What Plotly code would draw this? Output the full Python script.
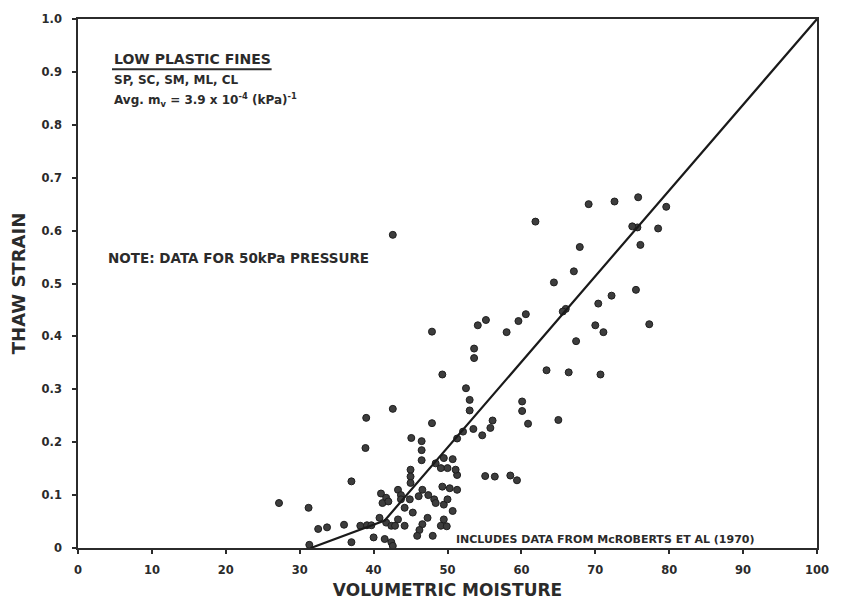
import plotly.graph_objects as go

# Measured points: volumetric moisture (%) and thaw strain
moisture = [
    42.6, 61.9, 69.1, 72.6, 75.8, 79.6, 75.7, 75.0, 78.5, 76.1,
    67.9, 67.1, 64.4, 66.0, 65.6, 72.2, 75.5, 70.4, 70.0, 71.1,
    77.3, 67.4, 70.7, 66.4, 63.4, 60.6, 59.6, 58.0, 55.2, 54.1,
    47.9, 53.6, 53.6, 49.3, 52.5, 53.0, 53.0, 60.1, 60.1, 60.9,
    65.0, 56.1, 55.8, 55.1, 56.4, 58.5, 59.4,
    42.6, 39.0, 47.9, 38.9, 45.1, 46.5, 46.5, 46.5, 37.0, 27.2,
    31.2, 36.0, 32.5, 33.7, 31.3, 37.0, 38.2, 39.1, 39.7, 40.0,
    41.0, 41.7, 41.2, 42.0, 40.8, 41.7, 42.4, 41.5, 42.4, 42.6,
    43.3, 43.7, 43.7, 43.3, 42.9, 44.2, 44.2, 45.3, 44.9, 45.0,
    45.0, 45.0, 46.1, 46.6, 47.4, 48.2, 47.3, 46.6, 46.2, 45.9,
    48.0, 49.1, 49.5, 49.9, 50.7, 49.5, 50.0, 49.3, 50.3, 51.3,
    48.4, 48.4, 49.5, 50.7, 50.0, 49.1, 51.3, 51.1, 52.1, 53.5,
    54.7, 51.3,
]
strain = [
    0.592, 0.617, 0.650, 0.655, 0.663, 0.645, 0.606, 0.608, 0.604, 0.573,
    0.569, 0.523, 0.502, 0.452, 0.447, 0.477, 0.488, 0.462, 0.421, 0.408,
    0.423, 0.391, 0.328, 0.332, 0.336, 0.442, 0.429, 0.408, 0.431, 0.421,
    0.409, 0.377, 0.359, 0.328, 0.302, 0.280, 0.260, 0.277, 0.259, 0.235,
    0.242, 0.241, 0.227, 0.136, 0.135, 0.137, 0.128,
    0.263, 0.246, 0.236, 0.189, 0.208, 0.202, 0.185, 0.166, 0.126, 0.085,
    0.076, 0.044, 0.036, 0.039, 0.006, 0.011, 0.042, 0.043, 0.043, 0.020,
    0.103, 0.095, 0.085, 0.088, 0.057, 0.048, 0.042, 0.017, 0.011, 0.004,
    0.110, 0.100, 0.092, 0.054, 0.042, 0.042, 0.076, 0.067, 0.092, 0.148,
    0.135, 0.123, 0.098, 0.110, 0.100, 0.092, 0.057, 0.045, 0.034, 0.023,
    0.023, 0.042, 0.054, 0.041, 0.070, 0.082, 0.092, 0.116, 0.113, 0.110,
    0.085, 0.160, 0.170, 0.168, 0.151, 0.151, 0.138, 0.148, 0.220, 0.225,
    0.213, 0.207,
]

# Fitted relationship (piecewise straight line)
fit_moisture = [31.5, 41.5, 100]
fit_strain = [0.0, 0.052, 1.0]

x_ticks = [0, 10, 20, 30, 40, 50, 60, 70, 80, 90, 100]
x_tick_text = ["0", "10", "20", "30", "40", "50", "60", "70", "80", "90", "100"]
y_ticks = [0, 0.1, 0.2, 0.3, 0.4, 0.5, 0.6, 0.7, 0.8, 0.9, 1.0]
y_tick_text = ["0", "0.1", "0.2", "0.3", "0.4", "0.5", "0.6", "0.7", "0.8", "0.9", "1.0"]

INK = "#2b2b2b"
FONT = "DejaVu Sans"

fig = go.Figure()
fig.add_trace(go.Scatter(
    x=moisture, y=strain, mode="markers",
    marker=dict(size=7, color="#3d3d3d", line=dict(color="#1e1e1e", width=1)),
    showlegend=False, hoverinfo="skip",
))
fig.add_trace(go.Scatter(
    x=fit_moisture, y=fit_strain, mode="lines",
    line=dict(color="#1a1a1a", width=2.2),
    showlegend=False, hoverinfo="skip",
))

axis_common = dict(
    showgrid=False, zeroline=False, showline=True, mirror=True,
    linecolor=INK, linewidth=1.5,
    ticks="outside", ticklen=4, tickwidth=1.5, tickcolor=INK,
    tickfont=dict(family=FONT, size=11.5, color=INK, weight="bold"),
)

fig.update_layout(
    width=841, height=610,
    margin=dict(l=78, r=12, t=15, b=62),
    paper_bgcolor="white", plot_bgcolor="white",
    xaxis=dict(
        range=[0, 100], tickvals=x_ticks, ticktext=x_tick_text,
        ticklabelstandoff=6,
        title=dict(text="<b>VOLUMETRIC MOISTURE</b>", standoff=9,
                   font=dict(family=FONT, size=17, color=INK)),
        **axis_common,
    ),
    yaxis=dict(
        range=[0, 1.0], tickvals=y_ticks, ticktext=y_tick_text,
        ticklabelstandoff=8,
        title=dict(text="<b>THAW STRAIN</b>", standoff=11,
                   font=dict(family=FONT, size=18, color=INK)),
        **axis_common,
    ),
)

fig.add_annotation(x=4.6, y=0.925, xref="x", yref="y", xanchor="left", yanchor="middle",
                   text="<b>LOW PLASTIC FINES</b>", showarrow=False,
                   font=dict(family=FONT, size=14, color=INK))
fig.add_shape(type="line", x0=4.6, x1=26.2, y0=0.905, y1=0.905, xref="x", yref="y",
              line=dict(color=INK, width=1.8))
fig.add_annotation(x=4.6, y=0.884, xref="x", yref="y", xanchor="left", yanchor="middle",
                   text="<b>SP, SC, SM, ML, CL</b>", showarrow=False,
                   font=dict(family=FONT, size=12, color=INK))
fig.add_annotation(x=4.6, y=0.846, xref="x", yref="y", xanchor="left", yanchor="middle",
                   text="<b>Avg. m<sub>v</sub> = 3.9 x 10<sup>-4</sup> (kPa)<sup>-1</sup></b>",
                   showarrow=False, font=dict(family=FONT, size=12, color=INK))
fig.add_annotation(x=3.8, y=0.548, xref="x", yref="y", xanchor="left", yanchor="middle",
                   text="<b>NOTE: DATA FOR 50kPa PRESSURE</b>", showarrow=False,
                   font=dict(family=FONT, size=13.5, color=INK))
fig.add_annotation(x=50.9, y=0.017, xref="x", yref="y", xanchor="left", yanchor="middle",
                   text="<b>INCLUDES DATA FROM McROBERTS ET AL (1970)</b>", showarrow=False,
                   font=dict(family=FONT, size=11, color=INK))

fig.write_html("out.html")
